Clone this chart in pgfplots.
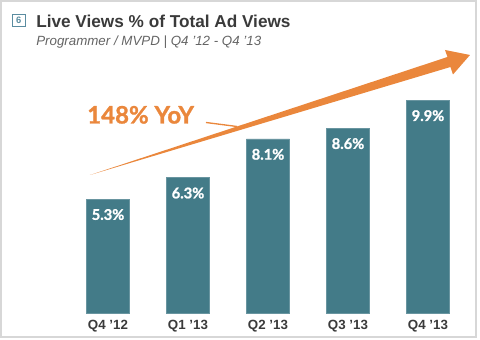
\documentclass[border=0pt]{standalone}
\usepackage{fontspec}
\setmainfont{Liberation Sans}
\newfontfamily\latofont[BoldFeatures={FakeBold=1.2}]{Lato}
\usepackage{pgfplots}
\pgfplotsset{compat=1.18}
\definecolor{barteal}{RGB}{67,123,136}
\definecolor{arroworange}{RGB}{234,135,60}
\definecolor{titlegray}{RGB}{58,58,58}
\definecolor{subgray}{RGB}{100,100,100}
\definecolor{framegray}{RGB}{215,215,215}
\definecolor{boxteal}{RGB}{90,140,160}
\begin{document}
\begin{tikzpicture}
\useasboundingbox (0,0) rectangle (360pt,255pt);
\begin{scope}[x=0.75pt,y=-0.75pt,yshift=255pt]
  \draw[framegray,line width=1.2pt] (1,1) rectangle (476,337);
  % title
  \draw[boxteal,line width=0.6pt] (12.5,14.5) rectangle (25,26.5);
  \node[font=\fontsize{7}{8}\selectfont\bfseries,text=boxteal] at (18.75,20.5) {6};
  \node[anchor=base west,inner sep=0,font=\fontsize{12.9}{15}\selectfont\bfseries,text=titlegray] at (36,28) {Live Views \% of Total Ad Views};
  \node[anchor=base west,inner sep=0,font=\fontsize{10}{11}\selectfont\itshape,text=subgray] at (36,46) {Programmer / MVPD | Q4 ’12 - Q4 ’13};
\end{scope}
\begin{axis}[
  at={(51pt,20.25pt)}, anchor=south west,
  scale only axis, width=300pt, height=204.75pt,
  xmin=-0.5, xmax=4.5, ymin=0, ymax=12.7,
  axis line style={draw=none},
  major tick length=0pt,
  ytick=\empty,
  xtick={0,1,2,3,4},
  xticklabels={Q4 ’12, Q1 ’13, Q2 ’13, Q3 ’13, Q4 ’13},
  xticklabel style={font=\fontsize{10}{12}\selectfont\bfseries, text=titlegray, yshift=-1.5pt},
  /pgf/number format/assume math mode=true,
  clip=false,
]
\addplot[ybar, bar width=0.54, fill=barteal, draw=barteal!80!white,
  nodes near coords={\pgfmathprintnumber[fixed,precision=1,fixed zerofill,assume math mode=true]{\pgfplotspointmeta}\%},
  every node near coord/.append style={anchor=center, yshift=-11.6pt, text=white, font=\latofont\fontsize{11}{12}\selectfont\bfseries}]
  coordinates {(0,5.3) (1,6.3) (2,8.1) (3,8.6) (4,9.9)};
\end{axis}
\begin{scope}[x=0.75pt,y=-0.75pt,yshift=255pt]
  \fill[arroworange] (90,175) -- (447.5,57) -- (445,50) -- (470,55) -- (453,74.5) -- (450.5,67) -- cycle;
  \draw[arroworange,line width=1pt] (206,122.5) -- (237,126.5);
  \node[anchor=base west,inner sep=0,font=\latofont\fontsize{18}{20}\selectfont\bfseries,text=arroworange] at (87,123.5) {148\% YoY};
\end{scope}
\end{tikzpicture}
\end{document}
